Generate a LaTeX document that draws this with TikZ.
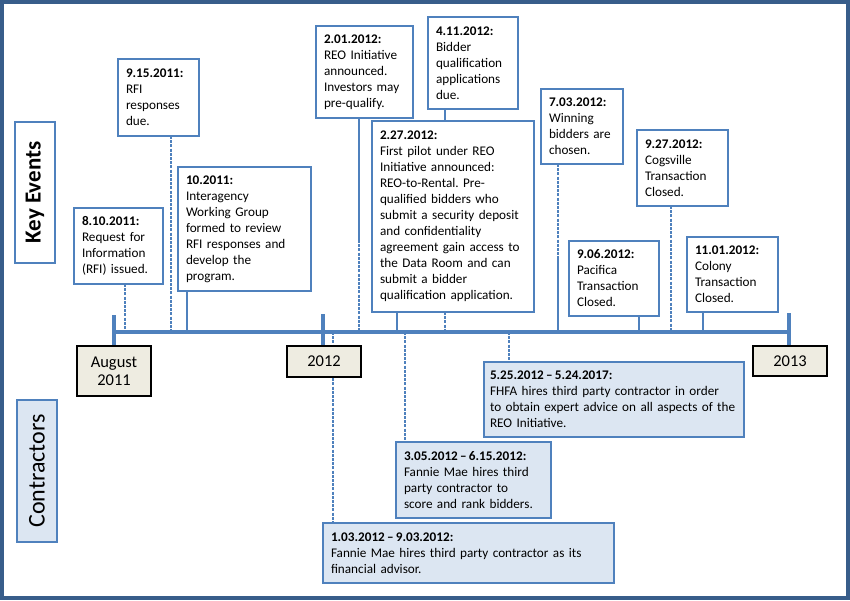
\documentclass[tikz,border=0pt]{standalone}
\usepackage{fontspec}
\setmainfont{Carlito}
\frenchspacing
\usetikzlibrary{backgrounds}
\definecolor{boxblue}{RGB}{79,129,189}
\definecolor{frameblue}{RGB}{56,93,138}
\definecolor{ctfill}{RGB}{220,230,242}
\definecolor{yrfill}{RGB}{238,236,225}
\tikzset{
  evbox/.style={draw=boxblue, line width=1.6pt, fill=white, align=left, anchor=north west,
    inner xsep=8pt, inner ysep=3pt, outer sep=0pt, font=\fontsize{13.2}{16}\selectfont\frenchspacing},
  ctbox/.style={evbox, fill=ctfill},
  yrbox/.style={draw=black, line width=1.6pt, fill=yrfill, align=center, anchor=center,
    inner sep=2pt, outer sep=0pt, font=\fontsize{16.5}{18}\selectfont},
  lblbox/.style={draw=boxblue, line width=1.6pt, rotate=90, anchor=center, inner sep=0pt, outer sep=0pt},
  conn/.style={draw=boxblue, line width=1.5pt},
  dconn/.style={draw=boxblue, line width=1.3pt, dash pattern=on 3pt off 1.2pt},
  tline/.style={draw=boxblue, line width=4.5pt},
  tick/.style={draw=boxblue, line width=4pt},
}
\begin{document}
\begin{tikzpicture}[x=1pt,y=-1pt]
\useasboundingbox (0,0) rectangle (850,600);
\draw[frameblue, line width=4pt] (2,2) rectangle (848,598);

% labels
\node[lblbox, fill=white, minimum width=141pt, minimum height=40pt, font=\fontsize{23}{26}\selectfont\bfseries] (ke) at (35,192.5) {Key Events};
\node[lblbox, fill=ctfill, minimum width=142pt, minimum height=40pt, font=\fontsize{24}{27}\selectfont] (ct) at (37,471) {Contractors};

% timeline coordinates
\coordinate (tl0) at (114,332);
\coordinate (tl1) at (790,332);
\coordinate (k0) at (114,315);
\coordinate (k1) at (323,314);
\coordinate (k2) at (789,313);

% year boxes
\node[yrbox, minimum width=74pt, minimum height=50pt] (y0) at (114,371) {August\\2011};
\node[yrbox, minimum width=74pt, minimum height=31pt] (y1) at (324,361.5) {2012};
\node[yrbox, minimum width=74pt, minimum height=30pt] (y2) at (790,361) {2013};

% event boxes
\node[evbox, text width=73pt, minimum width=89pt, minimum height=76pt] (e1) at (74,208)
  {\textbf{8.10.2011:}\\Request for\\Information\\(RFI) issued.};
\node[evbox, text width=65pt, minimum width=81pt, minimum height=77pt] (e2) at (118,59)
  {\textbf{9.15.2011:}\\RFI\\responses\\due.};
\node[evbox, text width=117pt, minimum width=133pt, minimum height=124pt] (e3) at (178,167)
  {\textbf{10.2011:}\\Interagency\\Working Group\\formed to review\\RFI responses and\\develop the\\program.};
\node[evbox, text width=81pt, minimum width=97pt, minimum height=92pt] (e4) at (316,26)
  {\textbf{2.01.2012:}\\REO Initiative\\announced.\\Investors may\\pre-qualify.};
\node[evbox, text width=74pt, minimum width=90pt, minimum height=92pt] (e5) at (428,17)
  {\textbf{4.11.2012:}\\Bidder\\qualification\\applications\\due.};
\node[evbox, text width=146pt, minimum width=162pt, minimum height=191pt] (e6) at (372,121)
  {\textbf{2.27.2012:}\\First pilot under REO\\Initiative announced:\\REO-to-Rental. Pre-\\qualified bidders who\\submit a security deposit\\and confidentiality\\agreement gain access to\\the Data Room and can\\submit a bidder\\qualification application.};
\node[evbox, text width=66pt, minimum width=82pt, minimum height=75pt] (e7) at (541,89)
  {\textbf{7.03.2012:}\\Winning\\bidders are\\chosen.};
\node[evbox, text width=75pt, minimum width=91pt, minimum height=76pt] (e8) at (637,130)
  {\textbf{9.27.2012:}\\Cogsville\\Transaction\\Closed.};
\node[evbox, text width=74pt, minimum width=90pt, minimum height=75pt] (e9) at (569,241)
  {\textbf{9.06.2012:}\\Pacifica\\Transaction\\Closed.};
\node[evbox, text width=75pt, minimum width=91pt, minimum height=75pt] (e10) at (687,237)
  {\textbf{11.01.2012:}\\Colony\\Transaction\\Closed.};

% contractor boxes
\node[ctbox, inner xsep=6pt, text width=248pt, minimum width=260pt, minimum height=75pt] (ca) at (484,362)
  {\textbf{5.25.2012\,–\,5.24.2017:}\\FHFA hires third party contractor in order\\to obtain expert advice on all aspects of the\\REO Initiative.};
\node[ctbox, text width=139pt, minimum width=155pt, minimum height=76pt] (cb) at (396,442)
  {\textbf{3.05.2012\,–\,6.15.2012:}\\Fannie Mae hires third\\party contractor to\\score and rank bidders.};
\node[ctbox, text width=275pt, minimum width=291pt, minimum height=60pt] (cc) at (323,523)
  {\textbf{1.03.2012\,–\,9.03.2012:}\\Fannie Mae hires third party contractor as its\\financial advisor.};

% attach points on the timeline
\coordinate (a1) at (125,332);
\coordinate (a2) at (171,332);
\coordinate (a3) at (187,332);
\coordinate (a4) at (359,332);
\coordinate (a4m) at (359,240);
\coordinate (a5) at (445,332);
\coordinate (a6) at (397,332);
\coordinate (a7) at (558,332);
\coordinate (a7m) at (558,257);
\coordinate (a8) at (671,332);
\coordinate (a9) at (639,332);
\coordinate (a10) at (703,332);
\coordinate (ac) at (333,332);
\coordinate (ab) at (405,332);
\coordinate (aa) at (509,332);

\begin{pgfonlayer}{background}
\fill[white] (4,4) rectangle (846,596);
\draw[dconn] (a1 |- e1.south) -- (a1);
\draw[dconn] (a2 |- e2.south) -- (a2);
\draw[conn] (a3 |- e3.south) -- (a3);
\draw[conn] (a4 |- e4.south) -- (a4m);
\draw[dconn] (a4m) -- (a4);
\draw[conn] (a5 |- e5.south) -- (a5 |- e6.north);
\draw[dconn] (a5 |- e6.south) -- (a5);
\draw[conn] (a6 |- e6.south) -- (a6);
\draw[dconn] (a7 |- e7.south) -- (a7m);
\draw[conn] (a7m) -- (a7);
\draw[dconn] (a8 |- e8.south) -- (a8);
\draw[conn] (a9 |- e9.south) -- (a9);
\draw[conn] (a10 |- e10.south) -- (a10);
\draw[dconn] (ac) -- (ac |- cc.north);
\draw[dconn] (ab) -- (ab |- cb.north);
\draw[dconn] (aa) -- (aa |- ca.north);
\draw[tick] (k0) -- (k0 |- y0.north);
\draw[tick] (k1) -- (k1 |- y1.north);
\draw[tick] (k2) -- (k2 |- y2.north);
\draw[tline] (tl0) -- (tl1);
\end{pgfonlayer}
\end{tikzpicture}
\end{document}
